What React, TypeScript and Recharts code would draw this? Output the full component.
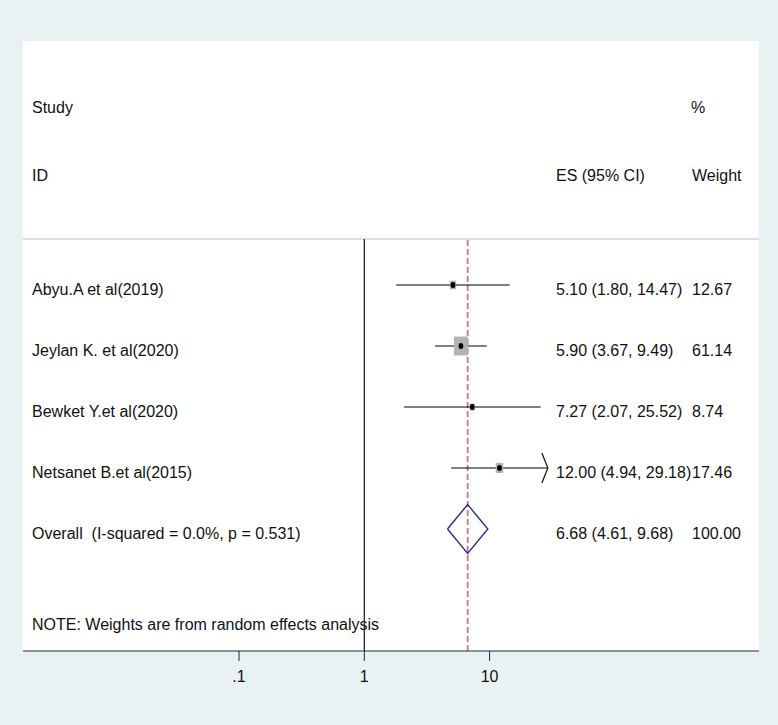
// Forest plot: odds ratios of four studies plus the pooled random-effects estimate.
import {
  ComposedChart,
  Scatter,
  Line,
  XAxis,
  YAxis,
  ErrorBar,
  ReferenceLine,
} from "recharts";

const studies = [
  "Abyu.A et al(2019)",
  "Jeylan K. et al(2020)",
  "Bewket Y.et al(2020)",
  "Netsanet B.et al(2015)",
];
const es = [5.1, 5.9, 7.27, 12.0];
const lower = [1.8, 3.67, 2.07, 4.94];
const upper = [14.47, 9.49, 25.52, 29.18];
const weight = [12.67, 61.14, 8.74, 17.46];
const arrowed = [false, false, false, true];

const overallLabel = "Overall\u00a0\u00a0(I-squared = 0.0%, p = 0.531)";
const overallEs = 6.68;
const overallLower = 4.61;
const overallUpper = 9.68;
const overallWeight = 100;

const xTicks = [0.1, 1, 10];
const xTickLabels = [".1", "1", "10"];

// layout
const W = 778;
const H = 725;
const PX_ONE = 364.3; // pixel of x = 1
const PX_DECADE = 125.3;
const PLOT_L = 23;
const PLOT_R = 759;
const X_DOMAIN = [
  10 ** ((PLOT_L - PX_ONE) / PX_DECADE),
  10 ** ((PLOT_R - PX_ONE) / PX_DECADE),
];
const Y_DOMAIN = [0.246, 7];
const DIAMOND_HALF = 0.4; // in rows
const FONT = "'Liberation Sans', Arial, Helvetica, sans-serif";
const FS = 16;

const overallRow = studies.length + 1;
const maxW = Math.max(...weight);

const studyData = studies.map((s, i) => ({
  row: i + 1,
  es: es[i],
  ci: [es[i] - lower[i], upper[i] - es[i]],
  weight: weight[i],
}));

const arrowData = studies
  .map((s, i) => ({ row: i + 1, es: upper[i], on: arrowed[i] }))
  .filter((d) => d.on);

const diamond = [
  { es: overallLower, row: overallRow },
  { es: overallEs, row: overallRow - DIAMOND_HALF },
  { es: overallUpper, row: overallRow },
  { es: overallEs, row: overallRow + DIAMOND_HALF },
  { es: overallLower, row: overallRow },
];

const rowTicks = [...studies.map((s, i) => i + 1), overallRow];

const rowLabel = (r: number) => {
  if (r === overallRow) {
    return {
      name: overallLabel,
      ci: `${overallEs.toFixed(2)} (${overallLower.toFixed(2)}, ${overallUpper.toFixed(2)})`,
      w: overallWeight.toFixed(2),
    };
  }
  const i = r - 1;
  return {
    name: studies[i],
    ci: `${es[i].toFixed(2)} (${lower[i].toFixed(2)}, ${upper[i].toFixed(2)})`,
    w: weight[i].toFixed(2),
  };
};

function RowTick(props: any) {
  const { y, payload } = props;
  const t = rowLabel(payload.value);
  const base = y + 10;
  return (
    <g fontFamily={FONT} fontSize={FS} fill="#111">
      <text x={32} y={base}>{t.name}</text>
      <text x={556} y={base}>{t.ci}</text>
      <text x={692} y={base}>{t.w}</text>
    </g>
  );
}

function StudyMark(props: any) {
  const { cx, cy, payload } = props;
  const w = 14 * Math.sqrt(payload.weight / maxW);
  const h = w * 1.35;
  return (
    <g>
      <rect x={cx - w / 2} y={cy - h / 2} width={w} height={h} fill="#b3b3b3" />
      <ellipse cx={cx} cy={cy} rx={2.4} ry={3} fill="#000" />
    </g>
  );
}

function Arrow(props: any) {
  const { cx, cy } = props;
  return (
    <polyline
      points={`${cx - 6},${cy - 15} ${cx},${cy} ${cx - 6},${cy + 15}`}
      fill="none"
      stroke="#111"
      strokeWidth={1.2}
    />
  );
}

export default function App() {
  return (
    <div
      style={{
        position: "fixed",
        left: 0,
        top: 0,
        width: W,
        height: H,
        background: "#e9f2f2",
        fontFamily: FONT,
      }}
    >
      <div
        style={{
          position: "absolute",
          left: PLOT_L,
          top: 41,
          width: PLOT_R - PLOT_L,
          height: 651 - 41,
          background: "#fff",
        }}
      />
      <svg
        width={W}
        height={H}
        style={{ position: "absolute", left: 0, top: 0 }}
        fontFamily={FONT}
        fontSize={FS}
        fill="#111"
      >
        <text x={32} y={113}>Study</text>
        <text x={691} y={113}>%</text>
        <text x={32} y={181}>ID</text>
        <text x={556} y={181}>ES (95% CI)</text>
        <text x={692} y={181}>Weight</text>
        <text x={32} y={630}>NOTE: Weights are from random effects analysis</text>
      </svg>
      <div style={{ position: "absolute", left: 0, top: 0 }}>
        <ComposedChart
          width={W}
          height={H}
          margin={{ top: 239, right: W - PLOT_R, bottom: H - 651 - 30, left: PLOT_L - 1 }}
        >
          <XAxis
            type="number"
            dataKey="es"
            scale="log"
            domain={X_DOMAIN}
            allowDataOverflow
            ticks={xTicks}
            tickFormatter={(v: number) => xTickLabels[xTicks.indexOf(v)] ?? String(v)}
            height={30}
            tickSize={10}
            tickMargin={10}
            stroke="#26263c"
            tick={{ fill: "#111", fontSize: FS, fontFamily: FONT }}
          />
          <YAxis
            type="number"
            dataKey="row"
            domain={Y_DOMAIN}
            reversed
            allowDataOverflow
            width={1}
            ticks={rowTicks}
            axisLine={false}
            tickLine={false}
            tick={<RowTick />}
            interval={0}
          />
          <ReferenceLine y={Y_DOMAIN[0]} stroke="#d5d5e1" strokeWidth={1.5} />
          <ReferenceLine x={1} stroke="#22223a" strokeWidth={1.3} />
          <ReferenceLine
            x={overallEs}
            stroke="#c27a8c"
            strokeWidth={1.8}
            strokeDasharray="6 3"
          />
          <Scatter data={studyData} shape={<StudyMark />} isAnimationActive={false}>
            <ErrorBar
              dataKey="ci"
              direction="x"
              width={0}
              stroke="#000"
              strokeWidth={1.1}
              isAnimationActive={false}
            />
          </Scatter>
          <Scatter data={arrowData} shape={<Arrow />} isAnimationActive={false} />
          <Line
            data={diamond}
            dataKey="row"
            type="linear"
            stroke="#2d2d8c"
            strokeWidth={1.4}
            dot={false}
            activeDot={false}
            isAnimationActive={false}
          />
        </ComposedChart>
      </div>
    </div>
  );
}
